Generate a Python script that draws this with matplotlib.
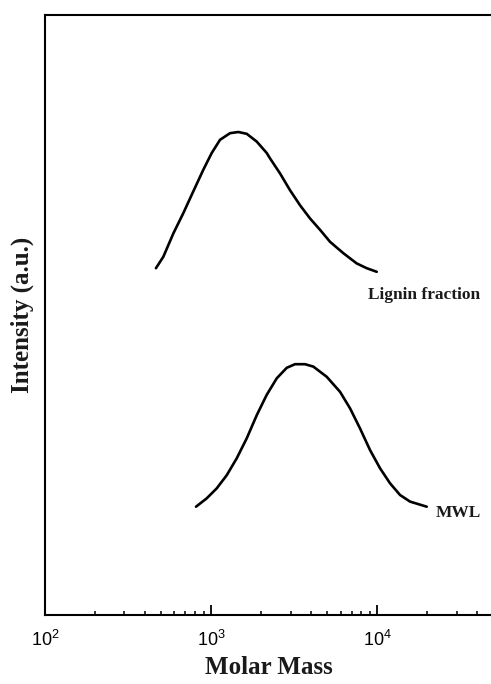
import matplotlib
matplotlib.use("Agg")
import matplotlib.pyplot as plt
from matplotlib.ticker import FixedLocator, FixedFormatter, LogLocator, NullFormatter

# Molar mass distribution (GPC) curves, intensity in arbitrary units
lignin_mass = [465, 515, 592, 680, 780, 896, 1007, 1130, 1297, 1456, 1636, 1879,
               2158, 2259, 2594, 2979, 3421, 3929, 4515, 5186, 6237, 7502, 8622, 9905]
lignin_intensity = [57.8, 59.7, 63.6, 67.0, 70.6, 74.2, 77.0, 79.2, 80.3, 80.5, 80.2, 78.9,
                    77.0, 76.1, 73.6, 70.8, 68.3, 66.1, 64.2, 62.2, 60.3, 58.6, 57.8, 57.2]

mwl_mass = [810, 940, 1079, 1240, 1423, 1636, 1879, 2158, 2479, 2847, 3193, 3667,
            4115, 4955, 5957, 6842, 7856, 9024, 10370, 11910, 13680, 15710, 19800]
mwl_intensity = [18.05, 19.45, 21.1, 23.3, 26.1, 29.45, 33.3, 36.7, 39.45, 41.2, 41.8, 41.8,
                 41.4, 39.7, 37.2, 34.45, 31.1, 27.5, 24.45, 21.95, 20.0, 18.9, 18.05]

curve_labels = ["Lignin fraction", "MWL"]
label_mass = [8770, 22540]
label_intensity = [53.3, 17.0]

major_ticks = [1e2, 1e3, 1e4]
major_labels = [r"$10^{2}$", r"$10^{3}$", r"$10^{4}$"]

plt.rcParams["mathtext.fontset"] = "custom"
plt.rcParams["mathtext.rm"] = "Liberation Sans"
plt.rcParams["mathtext.it"] = "Liberation Sans"

fig = plt.figure(figsize=(4.91, 6.84), dpi=100)
ax = fig.add_axes([45 / 491, 69 / 684, 448.6 / 491, 600 / 684])

ax.plot(lignin_mass, lignin_intensity, color="black", lw=1.9,
        solid_capstyle="round", solid_joinstyle="round")
ax.plot(mwl_mass, mwl_intensity, color="black", lw=1.9,
        solid_capstyle="round", solid_joinstyle="round")

for text, xm, yi in zip(curve_labels, label_mass, label_intensity):
    ax.text(xm, yi, text, ha="left", va="center", fontsize=12.5, fontweight="bold",
            family="Liberation Serif", color="#1a1a1a")

ax.set_xscale("log")
ax.set_xlim(1e2, 5e4)
ax.set_ylim(0, 100)

ax.xaxis.set_major_locator(FixedLocator(major_ticks))
ax.xaxis.set_major_formatter(FixedFormatter(major_labels))
ax.xaxis.set_minor_locator(LogLocator(base=10, subs=range(2, 10)))
ax.xaxis.set_minor_formatter(NullFormatter())
ax.tick_params(axis="x", which="major", direction="in", length=7, width=1.3,
               pad=11, labelsize=13, colors="black")
ax.tick_params(axis="x", which="minor", direction="in", length=3.2, width=1.1)
ax.set_yticks([])

for side in ["left", "bottom", "top"]:
    ax.spines[side].set_linewidth(1.5)
ax.spines["right"].set_visible(False)

ax.set_xlabel("Molar Mass", fontsize=18, fontweight="bold", family="Liberation Serif",
              labelpad=4, color="#1a1a1a")
ax.set_ylabel("Intensity (a.u.)", fontsize=18, fontweight="bold", family="Liberation Serif",
              labelpad=8, color="#1a1a1a")

fig.savefig("out.png", dpi=100)
